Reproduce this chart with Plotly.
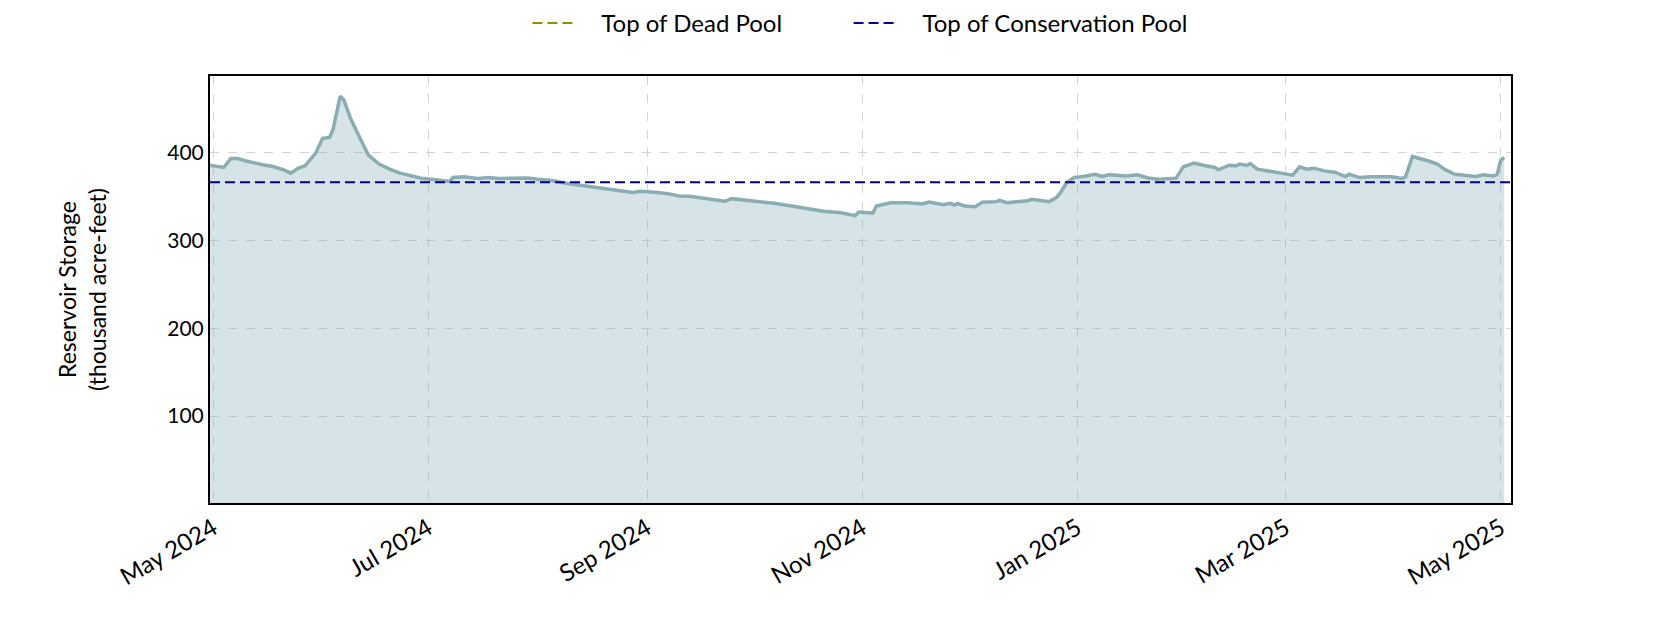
import plotly.graph_objects as go

# Reservoir storage readings, thousand acre-feet
dates = [
    "2024-04-30", "2024-05-04", "2024-05-06", "2024-05-08", "2024-05-10", "2024-05-13",
    "2024-05-15", "2024-05-18", "2024-05-21", "2024-05-23", "2024-05-25", "2024-05-27",
    "2024-05-30", "2024-06-01", "2024-06-03", "2024-06-04", "2024-06-06", "2024-06-07",
    "2024-06-09", "2024-06-12", "2024-06-14", "2024-06-17", "2024-06-20", "2024-06-23",
    "2024-06-26", "2024-06-29", "2024-07-03", "2024-07-07", "2024-07-08", "2024-07-11",
    "2024-07-15", "2024-07-18", "2024-07-21", "2024-07-24", "2024-07-27", "2024-07-29",
    "2024-08-01", "2024-08-05", "2024-08-09", "2024-08-13", "2024-08-16", "2024-08-20",
    "2024-08-24", "2024-08-28", "2024-08-30", "2024-09-01", "2024-09-04", "2024-09-07",
    "2024-09-10", "2024-09-13", "2024-09-16", "2024-09-19", "2024-09-23", "2024-09-25",
    "2024-09-29", "2024-10-03", "2024-10-07", "2024-10-12", "2024-10-17", "2024-10-21",
    "2024-10-26", "2024-10-30", "2024-10-31", "2024-11-04", "2024-11-05", "2024-11-07",
    "2024-11-09", "2024-11-14", "2024-11-18", "2024-11-20", "2024-11-23", "2024-11-24",
    "2024-11-26", "2024-11-27", "2024-11-28", "2024-11-30", "2024-12-03", "2024-12-05",
    "2024-12-09", "2024-12-10", "2024-12-12", "2024-12-15", "2024-12-18", "2024-12-19",
    "2024-12-21", "2024-12-24", "2024-12-26", "2024-12-27", "2024-12-29", "2024-12-31",
    "2025-01-03", "2025-01-06", "2025-01-08", "2025-01-10", "2025-01-13", "2025-01-15",
    "2025-01-18", "2025-01-21", "2025-01-24", "2025-01-27", "2025-01-29", "2025-01-31",
    "2025-02-03", "2025-02-06", "2025-02-09", "2025-02-10", "2025-02-13", "2025-02-15",
    "2025-02-16", "2025-02-18", "2025-02-19", "2025-02-21", "2025-02-24", "2025-02-27",
    "2025-03-03", "2025-03-05", "2025-03-07", "2025-03-09", "2025-03-12", "2025-03-15",
    "2025-03-18", "2025-03-19", "2025-03-22", "2025-03-25", "2025-03-31", "2025-04-03",
    "2025-04-04", "2025-04-06", "2025-04-08", "2025-04-11", "2025-04-13", "2025-04-15",
    "2025-04-18", "2025-04-21", "2025-04-24", "2025-04-26", "2025-04-29", "2025-04-30",
    "2025-05-01", "2025-05-02",
]
storage = [
    385.5, 382.9, 393.0, 393.0, 390.5, 387.4,
    386.0, 384.0, 380.2, 376.4, 382.0, 384.8,
    398.9, 416.0, 417.0, 426.7, 464.0, 460.0,
    438.0, 413.0, 397.0, 386.7, 381.0, 376.4,
    373.3, 370.7, 368.8, 366.9, 371.4, 372.2,
    370.3, 371.4, 370.3, 370.7, 370.7, 371.0,
    369.5, 368.0, 365.0, 362.7, 360.8, 358.9,
    356.6, 354.3, 355.8, 355.4, 354.3, 353.1,
    350.5, 350.1, 348.6, 346.3, 344.4, 347.4,
    345.9, 344.0, 342.1, 339.0, 335.2, 333.0,
    331.4, 328.0, 332.2, 331.0, 339.0, 341.0,
    342.8, 342.8, 341.3, 343.6, 342.1, 340.6,
    342.1, 340.2, 342.1, 339.0, 338.3, 343.2,
    344.0, 345.5, 342.8, 344.0, 345.1, 346.7,
    345.9, 344.0, 348.6, 353.1, 365.7, 371.4,
    373.0, 375.2, 372.6, 374.5, 373.7, 373.3,
    374.5, 371.0, 369.5, 370.7, 370.7, 383.6,
    387.8, 385.1, 382.9, 380.2, 385.5, 384.8,
    386.7, 385.1, 387.4, 381.0, 379.0, 376.8,
    374.1, 383.6, 381.0, 382.1, 379.0, 377.5,
    372.6, 375.2, 371.4, 372.2, 372.2, 370.3,
    372.2, 395.4, 393.5, 389.7, 386.7, 381.0,
    375.2, 373.7, 372.6, 374.5, 373.3, 375.2,
    391.2, 394.3,
]

dead_pool = 0
conservation_pool = 366.2
y_ticks = [100, 200, 300, 400]

x_range = ["2024-04-30 02:00", "2025-05-03 22:00"]
font = "Lato"
pad = "\u00a0" * 4  # gap between legend swatch and label

fig = go.Figure()

fig.add_trace(go.Scatter(
    x=dates, y=storage, mode="lines", fill="tozeroy",
    fillcolor="rgba(138,178,186,0.35)",
    line=dict(color="#8aadb3", width=3.5),
    showlegend=False,
))

fig.add_trace(go.Scatter(
    x=x_range, y=[dead_pool, dead_pool], mode="lines",
    line=dict(color="#8f8f00", width=2, dash="10px,5px"),
    name=pad + "Top of Dead Pool" + "\u00a0" * 10,
))
fig.add_trace(go.Scatter(
    x=x_range, y=[conservation_pool, conservation_pool], mode="lines",
    line=dict(color="#00008b", width=2, dash="10px,5px"),
    name=pad + "Top of Conservation Pool",
))

# the page body adds an 8px offset, so margins are shifted to compensate
fig.update_layout(
    width=1680, height=630,
    margin=dict(l=202, r=177, t=68, b=135, autoexpand=False),
    paper_bgcolor="white", plot_bgcolor="white",
    font=dict(family=font, size=21, color="black"),
    legend=dict(orientation="h", x=0.244, xanchor="left", y=1.123, yanchor="middle",
                font=dict(size=24), itemwidth=40),
)

fig.update_xaxes(
    range=x_range, type="date", automargin=False,
    tick0="2024-05-01", dtick="M2", tickformat="%b %Y", tickangle=-30,
    tickfont=dict(size=24),
    showgrid=True, gridcolor="#d3d3d3", griddash="dash", gridwidth=1.2,
    showline=True, linecolor="black", linewidth=2, mirror=True,
    ticks="", zeroline=False,
)
fig.update_yaxes(
    range=[1, 487], tickvals=y_ticks, automargin=False,
    showgrid=True, gridcolor="#d3d3d3", griddash="dash", gridwidth=1.2,
    showline=True, linecolor="black", linewidth=2, mirror=True,
    ticks="", zeroline=False,
    title=dict(text="Reservoir Storage<br>(thousand acre-feet)", font=dict(size=23), standoff=54),
)

fig.write_html("out.html")
